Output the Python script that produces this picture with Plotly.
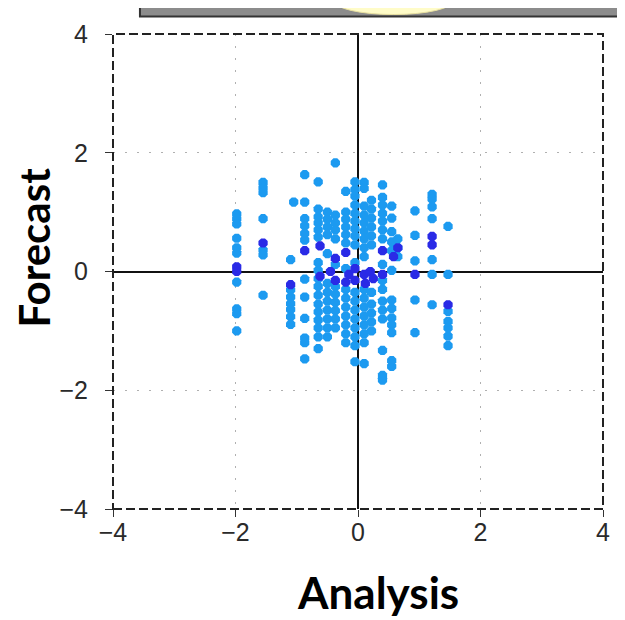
import plotly.graph_objects as go

# ---- data (Analysis, Forecast) ----
light_cols = {
    -1.98: [0.97, 0.89, 0.80, 0.56, 0.40, 0.31, -0.18, -0.63, -0.71, -1.00],
    -1.55: [1.50, 1.41, 1.33, 0.89, 0.36, 0.28, -0.40],
    -1.10: [0.20, -0.31, -0.43, -0.54, -0.64, -0.76, -0.89],
    -1.05: [1.17],
    -0.87: [1.63, 1.17, 0.89, 0.77, 0.64, 0.53, -0.13, -0.43, -0.79, -1.12, -1.20, -1.47],
    -0.65: [1.51, 1.05, 0.92, 0.82, 0.70, 0.58, 0.15, 0.02, -0.12, -0.25, -0.40, -0.55,
            -0.68, -0.82, -0.95, -1.10, -1.30],
    -0.50: [1.00, 0.88, 0.75, 0.62, 0.30, -0.20, -0.35, -0.50, -0.65, -0.80, -0.95, -1.10],
    -0.37: [1.83, 0.95, 0.82, 0.70, 0.55, 0.12, -0.25, -0.38, -0.52, -0.66, -0.80, -0.95],
    -0.20: [1.35, 1.00, 0.88, 0.75, 0.62, 0.48, 0.05, -0.30, -0.45, -0.60, -0.75, -0.90,
            -1.05, -1.20],
    -0.05: [1.51, 1.38, 1.27, 1.12, 0.98, 0.85, 0.72, 0.60, 0.45, 0.15, -0.35, -0.50,
            -0.65, -0.80, -0.95, -1.10, -1.25, -1.52],
    0.10: [1.50, 1.40, 1.10, 0.95, 0.82, 0.68, 0.55, 0.40, 0.25, -0.30, -0.45, -0.60,
           -0.75, -0.90, -1.05, -1.20, -1.55],
    0.22: [1.20, 1.05, 0.90, 0.75, 0.60, 0.45, -0.35, -0.55, -0.70, -0.85, -1.00],
    0.40: [1.46, 1.25, 1.12, 0.98, 0.85, 0.70, 0.55, 0.12, -0.15, -0.30, -0.50, -0.65,
           -0.80, -1.33, -1.75, -1.83],
    0.55: [1.10, 0.90, 0.67, 0.50, 0.35, 0.02, -0.48, -0.62, -0.78, -0.90, -1.03, -1.60, -1.50],
    0.65: [0.55, 0.40, 0.25],
    0.93: [1.02, 0.61, 0.18, -0.48, -1.03],
    1.21: [1.30, 1.22, 1.09, 0.89, 0.20, -0.05, -0.56],
    1.47: [0.76, -0.05, -0.67, -0.84, -0.95, -1.09, -1.25],
}
analysis_light = [x for x, ys in light_cols.items() for _ in ys]
forecast_light = [y for ys in light_cols.values() for y in ys]

analysis_dark = [-1.98, -1.98, -1.55, -1.10, -0.87, -0.62, -0.62, -0.45, -0.37, -0.37,
                 -0.20, -0.20, -0.15, -0.05, -0.05, 0.10, 0.12, 0.20, 0.25, 0.40,
                 0.40, 0.58, 0.65, 0.93, 1.21, 1.21, 1.47]
forecast_dark = [0.08, 0.00, 0.48, -0.22, 0.35, 0.43, -0.08, 0.00, 0.22, -0.15,
                 0.32, -0.18, -0.05, -0.15, 0.05, -0.05, -0.20, 0.00, -0.12, 0.35,
                 -0.05, 0.25, 0.40, -0.05, 0.59, 0.45, -0.56]

tick_vals = [-4, -2, 0, 2, 4]
axis_range = [-4, 4]

LIGHT = "#1c9af0"
DARK = "#2a2ae6"

fig = go.Figure()
fig.add_trace(go.Scatter(x=analysis_light, y=forecast_light, mode="markers",
                         marker=dict(symbol="octagon", size=10, color=LIGHT, line=dict(width=0)),
                         hoverinfo="x+y"))
fig.add_trace(go.Scatter(x=analysis_dark, y=forecast_dark, mode="markers",
                         marker=dict(symbol="octagon", size=10, color=DARK, line=dict(width=0)),
                         hoverinfo="x+y"))

axis_common = dict(
    range=axis_range, tickvals=tick_vals, showline=False,
    showgrid=True, gridcolor="#b0b0b0", gridwidth=1, griddash="2px,10px",
    zeroline=True, zerolinecolor="#111111", zerolinewidth=2,
    ticks="outside", ticklen=7, tickcolor="#333333", tickwidth=1,
    tickfont=dict(family="Liberation Sans", size=25, color="#2a2a2a"),
    fixedrange=True,
)
fig.update_xaxes(**axis_common, ticklabelstandoff=-6)
fig.update_yaxes(**axis_common, ticklabelstandoff=12)

shapes = [
    # dashed frame
    dict(type="rect", xref="paper", yref="paper", x0=0, y0=0, x1=1, y1=1,
         line=dict(color="#222222", width=2, dash="9px,4px"), layer="above"),
    # cropped grey box at top
    dict(type="rect", xref="paper", yref="paper", x0=0.055, x1=1.06, y0=1.037, y1=1.08,
         fillcolor="#8c8c8c", line=dict(color="#333333", width=2)),
    dict(type="circle", xref="paper", yref="paper", x0=0.45, x1=0.695, y0=1.041, y1=1.10,
         fillcolor="#fffcc8", line=dict(color="#e8e0a0", width=1)),
]

# the page body has an 8px margin, so the figure is 8px smaller and shifted
fig.update_layout(
    width=617, height=612,
    margin=dict(l=105, r=22, t=15, b=111),
    plot_bgcolor="white", paper_bgcolor="white",
    showlegend=False,
    shapes=shapes,
    annotations=[
        dict(text="Analysis", xref="paper", yref="paper", x=0.541, y=-0.175,
             showarrow=False, xanchor="center", yanchor="middle",
             font=dict(family="Lato", size=44, color="black", weight=700)),
        dict(text="Forecast", xref="paper", yref="paper", x=-0.161, y=0.551,
             showarrow=False, xanchor="center", yanchor="middle", textangle=-90,
             font=dict(family="Lato", size=42, color="black", weight=700)),
    ],
)

fig.write_html("out.html")
